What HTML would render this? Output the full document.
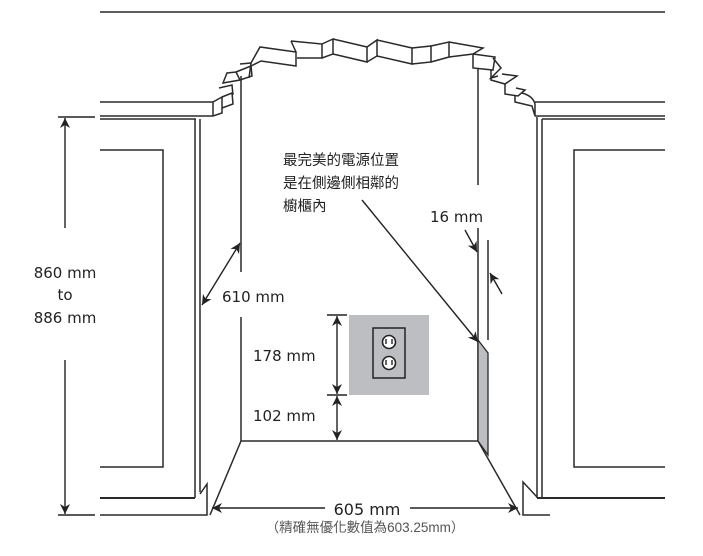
<!DOCTYPE html>
<html><head><meta charset="utf-8"><style>
html,body{margin:0;padding:0;background:#fff;width:703px;height:556px;overflow:hidden}
svg{display:block}
text{font-family:"DejaVu Sans","Liberation Sans","Noto Sans CJK TC",sans-serif;fill:#222}
.c{font-family:"Liberation Sans","Noto Sans CJK TC",sans-serif}
</style></head><body>
<svg width="703" height="556" viewBox="0 0 703 556" xmlns="http://www.w3.org/2000/svg">
<defs>
<marker id="a" viewBox="0 0 10 10" refX="10" refY="5" markerWidth="10" markerHeight="10" orient="auto-start-reverse" markerUnits="userSpaceOnUse"><path d="M0,0 L10,5 L0,10 L3,5 z" fill="#222"/></marker>
</defs>
<g stroke="#2a2a2a" stroke-width="1.5" fill="none">
<line x1="100" y1="12" x2="665" y2="12"/>
<line x1="100" y1="102" x2="213" y2="102"/>
<line x1="100" y1="116" x2="213" y2="116"/>
<line x1="100" y1="119" x2="196" y2="119"/>
<line x1="213" y1="102" x2="213" y2="116"/>
<path d="M213,102 L222,97 L222,113 L213,116"/>
<path d="M222,97 L232,93 L233,104 L222,108"/>
<path d="M219,88 L232,85 L233,95"/>
<path d="M223,83 L240,80 L236,72 L227,73 Z"/>
<path d="M236,72 L251,66 L252,76 L240,80"/>
<path d="M240,64 L251,63 L249,78"/>
<path d="M251,63 L260,47 L296,52 L296,66 L261,61 L251,66"/>
<path d="M291,41 L322,44 L322,58 L297,58"/>
<path d="M291,41 L296,52"/>
<path d="M322,44 L333,39 L333,54 L322,58"/>
<path d="M333,39 L367,47 L367,62 L333,54"/>
<path d="M367,47 L377,40 L377,56 L367,62"/>
<path d="M377,40 L412,48 L412,64 L377,56"/>
<path d="M412,48 L431,46 L431,62 L412,64"/>
<path d="M431,46 L449,42 L449,57 L431,62"/>
<path d="M449,42 L483,48 L473,54 L449,57"/>
<path d="M473,54 L473,68 L493,70 L495,57 L473,54"/>
<path d="M493,58 L501,68 L491,78 L498,76"/>
<path d="M491,70 L491,80 L505,84 L517,76 L502,74"/>
<path d="M505,84 L505,94 L518,96 L525,90 L516,88"/>
<path d="M515,95 L515,102 L532,106 L535,116 L535,104 Q533,96 522,93"/>
<line x1="535" y1="102" x2="665" y2="102"/>
<line x1="535" y1="116" x2="665" y2="116"/>
<line x1="542" y1="119" x2="665" y2="119"/>
<line x1="195" y1="119" x2="195" y2="498"/>
<line x1="200" y1="119" x2="200" y2="492"/>
<polyline points="100,150 163,150 163,467 100,467" stroke-width="1.5"/>
<line x1="100" y1="498" x2="195" y2="498" stroke-width="2"/>
<polyline points="100,515 207,515 207,484 200,494"/>
<line x1="537" y1="117" x2="537" y2="498"/>
<line x1="542" y1="119" x2="542" y2="498"/>
<polyline points="537,497 523,482 523,515 550,515"/>
<polyline points="665,150 574,150 574,467 665,467" stroke-width="1.5"/>
<line x1="537" y1="498" x2="665" y2="498" stroke-width="2"/>
<line x1="241" y1="76" x2="241" y2="272"/>
<line x1="241" y1="317" x2="241" y2="441"/>
<line x1="241" y1="441" x2="478" y2="441"/>
<line x1="241" y1="441" x2="210" y2="515"/>
<line x1="478" y1="68" x2="478" y2="185"/>
<line x1="478" y1="228" x2="478" y2="441"/>
<line x1="488" y1="240" x2="488" y2="340"/>
<line x1="478" y1="441" x2="520" y2="515"/>
</g>
<polygon points="478,340 488,353 488,455 478,441" fill="#bcbec1" stroke="#2a2a2a" stroke-width="1.3"/>
<rect x="349" y="315" width="80" height="80" fill="#bcbec1"/>
<rect x="373" y="328" width="32" height="50" fill="none" stroke="#222" stroke-width="1.5"/>
<circle cx="389" cy="342" r="6.5" fill="#fff" stroke="#222" stroke-width="1.6"/>
<circle cx="389" cy="363" r="6.5" fill="#fff" stroke="#222" stroke-width="1.6"/>
<g stroke="#222" stroke-width="1.4"><line x1="386" y1="339" x2="386" y2="344"/><line x1="392" y1="339" x2="392" y2="344"/><line x1="386" y1="360" x2="386" y2="365"/><line x1="392" y1="360" x2="392" y2="365"/></g>
<g stroke="#222" stroke-width="1.4" fill="none">
<line x1="58" y1="117" x2="95" y2="117"/>
<line x1="58" y1="515" x2="95" y2="515"/>
<line x1="65" y1="228" x2="65" y2="118" marker-end="url(#a)"/>
<line x1="65" y1="360" x2="65" y2="514" marker-end="url(#a)"/>
<line x1="327" y1="315" x2="347" y2="315"/>
<line x1="327" y1="395" x2="347" y2="395"/>
<line x1="337" y1="316" x2="337" y2="394" marker-start="url(#a)" marker-end="url(#a)"/>
<line x1="337" y1="396" x2="337" y2="440" marker-start="url(#a)" marker-end="url(#a)"/>
<line x1="240" y1="243" x2="202" y2="305" marker-start="url(#a)" marker-end="url(#a)"/>
<line x1="325" y1="508" x2="212" y2="508" marker-end="url(#a)"/>
<line x1="410" y1="508" x2="518" y2="508" marker-end="url(#a)"/>
<line x1="465" y1="230" x2="477" y2="252" marker-end="url(#a)"/>
<line x1="502" y1="294" x2="490" y2="273" marker-end="url(#a)"/>
<line x1="362" y1="200" x2="478" y2="342" marker-end="url(#a)"/>
</g>
<g font-size="15">
<text x="65" y="278" text-anchor="middle">860 mm</text>
<text x="65" y="300" text-anchor="middle">to</text>
<text x="65" y="323" text-anchor="middle">886 mm</text>
<text x="222" y="302">610 mm</text>
<text x="253" y="361">178 mm</text>
<text x="253" y="421">102 mm</text>
<text x="430" y="222">16 mm</text>
<text x="367" y="515" text-anchor="middle" font-size="16">605 mm</text>
</g>
<g font-size="14.5">
<text class="c" x="283" y="165">最完美的電源位置</text>
<text class="c" x="283" y="188">是在側邊側相鄰的</text>
<text class="c" x="283" y="211">櫥櫃內</text>
<text class="c" x="365" y="532" text-anchor="middle" font-size="13.5" style="fill:#555">（精確無優化數值為603.25mm）</text>
</g>
</svg>
</body></html>
